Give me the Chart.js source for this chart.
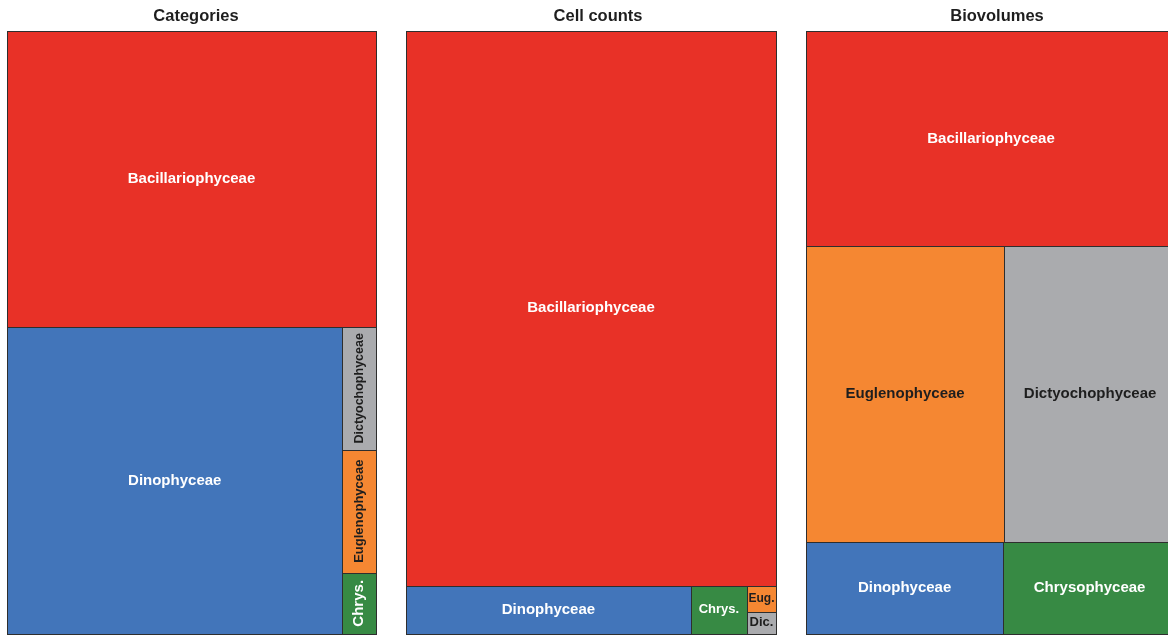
<!DOCTYPE html>
<html>
<head>
<meta charset="utf-8">
<title>Phytoplankton composition</title>
<script src="https://cdn.jsdelivr.net/npm/chart.js"></script>
<style>
  html, body { margin: 0; padding: 0; background: #ffffff; overflow: hidden; }
  body { position: relative; width: 1168px; height: 635px; }
  canvas { position: absolute; top: 0; }
</style>
</head>
<body>
<canvas id="panelCategories" width="378" height="635" style="left:7px"></canvas>
<canvas id="panelCells" width="384" height="635" style="left:406px"></canvas>
<canvas id="panelBiovolumes" width="382" height="635" style="left:806px"></canvas>
<script>
// Phytoplankton classes, ties broken alphabetically
const taxa = ['Bacillariophyceae', 'Dinophyceae', 'Dictyochophyceae', 'Euglenophyceae', 'Chrysophyceae'];
const shortNames = ['Bac.', 'Dino.', 'Dic.', 'Eug.', 'Chrys.'];
const taxaColours = ['#E83127', '#4275BA', '#AAABAE', '#F58732', '#378A44'];
const labelColours = ['#ffffff', '#ffffff', '#1e1e1e', '#1e1e1e', '#ffffff'];

// number of taxa per class
const categoryCounts = [53, 50, 2, 2, 1];
// share of total cell counts (%)
const cellCountShares = [91.96, 6.19, 0.29, 0.34, 1.22];
// share of total biovolume (%)
const biovolumeShares = [35.7, 8.1, 22.8, 26.3, 7.1];

const panelTitles = ['Categories', 'Cell counts', 'Biovolumes'];

const FONT = '"Liberation Sans", Arial, Helvetica, sans-serif';
Chart.defaults.font.family = FONT;

// Squarified treemap layout inside a W x H box; returns rectangles per input index
function squarify(values, W, H) {
  const total = values.reduce((s, v) => s + v, 0);
  const order = values.map((v, i) => i).sort((a, b) => values[b] - values[a]);
  const items = order.map(i => ({ i, a: values[i] * W * H / total }));
  const out = new Array(values.length);
  let x = 0, y = 0, w = W, h = H;
  let row = [];
  const worst = (r, side) => {
    const s = r.reduce((acc, it) => acc + it.a, 0);
    const len = s / side;
    let m = 0;
    for (const it of r) {
      const other = it.a / len;
      m = Math.max(m, len / other, other / len);
    }
    return m;
  };
  const layoutRow = () => {
    const s = row.reduce((acc, it) => acc + it.a, 0);
    if (w <= h) {
      const rh = s / w;
      let cx = x;
      for (const it of row) {
        const iw = it.a / rh;
        out[it.i] = { x0: cx, x1: cx + iw, y0: y, y1: y + rh };
        cx += iw;
      }
      y += rh; h -= rh;
    } else {
      const cw = s / h;
      let cy = y;
      for (const it of row) {
        const ih = it.a / cw;
        out[it.i] = { x0: x, x1: x + cw, y0: cy, y1: cy + ih };
        cy += ih;
      }
      x += cw; w -= cw;
    }
    row = [];
  };
  let k = 0;
  while (k < items.length) {
    const side = Math.min(w, h);
    const cand = items[k];
    if (row.length === 0 || worst(row.concat([cand]), side) <= worst(row, side)) {
      row.push(cand);
      k++;
    } else {
      layoutRow();
    }
  }
  if (row.length) layoutRow();
  return out;
}

// Rectangle element for one treemap cell
class TileElement extends Chart.Element {
  static id = 'tile';
  static defaults = { backgroundColor: '#cccccc', borderColor: '#2e2e2e', borderWidth: 1 };

  draw(ctx) {
    const o = this.options;
    const l = Math.round(this.left), t = Math.round(this.top);
    const r = Math.round(this.right), b = Math.round(this.bottom);
    ctx.save();
    ctx.fillStyle = o.backgroundColor;
    ctx.fillRect(l, t, r - l, b - t);
    ctx.lineWidth = o.borderWidth;
    ctx.strokeStyle = o.borderColor;
    ctx.strokeRect(l + 0.5, t + 0.5, r - l, b - t);
    ctx.restore();
  }
  inRange(mx, my) { return mx >= this.left && mx <= this.right && my >= this.top && my <= this.bottom; }
  inXRange(mx) { return mx >= this.left && mx <= this.right; }
  inYRange(my) { return my >= this.top && my <= this.bottom; }
  getCenterPoint() { return { x: (this.left + this.right) / 2, y: (this.top + this.bottom) / 2 }; }
  tooltipPosition() { return this.getCenterPoint(); }
}

// Dataset controller laying the values out as a squarified treemap on linear x/y scales
class TreemapController extends Chart.DatasetController {
  static id = 'treemap';
  static defaults = { datasetElementType: false, dataElementType: 'tile' };
  static overrides = {};

  update(mode) {
    const meta = this._cachedMeta;
    this.updateElements(meta.data, 0, meta.data.length, mode);
  }

  updateElements(tiles, start, count, mode) {
    const { xScale, yScale } = this._cachedMeta;
    const area = this.chart.chartArea;
    const W = area.right - area.left;
    const H = area.bottom - area.top;
    const rects = squarify(this.getDataset().data.map(Number), W, H);
    for (let i = start; i < start + count; i++) {
      const r = rects[i];
      const props = {
        left: xScale.getPixelForValue(r.x0 / W),
        right: xScale.getPixelForValue(r.x1 / W),
        top: yScale.getPixelForValue(r.y0 / H),
        bottom: yScale.getPixelForValue(r.y1 / H),
        options: this.resolveDataElementOptions(i, mode)
      };
      this.updateElement(tiles[i], i, props, mode);
    }
  }
}

Chart.register(TileElement, TreemapController);

// Pick text, size and orientation for a cell label
function chooseLabel(ctx, full, short, w, h) {
  const measure = (text, size) => {
    ctx.font = `bold ${size}px ${FONT}`;
    return ctx.measureText(text).width;
  };
  for (const text of [full, short]) {
    for (const size of [15, 13]) {
      const tw = measure(text, size);
      if (tw <= w - 10 && size <= h - 4) return { text, size, rot: false };
      if (tw <= h - 10 && size <= w - 4) return { text, size, rot: true };
    }
    const tw13 = measure(text, 13);
    const sH = Math.min(13, 13 * 0.9 * w / tw13, 0.8 * h);
    const sR = Math.min(13, 13 * 0.9 * h / tw13, 0.8 * w);
    const s = Math.max(sH, sR);
    if (s >= 9) return { text, size: s, rot: sR > sH };
  }
  return null;
}

const tileLabels = {
  id: 'tileLabels',
  afterDatasetsDraw(chart) {
    const ctx = chart.ctx;
    const meta = chart.getDatasetMeta(0);
    meta.data.forEach((tile, i) => {
      const w = tile.right - tile.left;
      const h = tile.bottom - tile.top;
      const pick = chooseLabel(ctx, taxa[i], shortNames[i], w, h);
      if (!pick) return;
      ctx.save();
      ctx.font = `bold ${pick.size}px ${FONT}`;
      ctx.fillStyle = labelColours[i];
      ctx.textAlign = 'center';
      ctx.textBaseline = 'middle';
      ctx.translate((tile.left + tile.right) / 2, (tile.top + tile.bottom) / 2);
      if (pick.rot) ctx.rotate(-Math.PI / 2);
      ctx.fillText(pick.text, 0, 0);
      ctx.restore();
    });
  }
};

function makePanel(canvasId, title, values, rightGap) {
  return new Chart(document.getElementById(canvasId), {
    type: 'treemap',
    data: {
      labels: taxa,
      datasets: [{
        label: title,
        data: values,
        backgroundColor: taxaColours,
        borderColor: '#2e2e2e',
        borderWidth: 1,
        clip: false,
        xAxisID: 'x',
        yAxisID: 'y'
      }]
    },
    options: {
      responsive: false,
      animation: false,
      events: [],
      layout: { padding: { bottom: 1 } },
      scales: {
        x: { type: 'linear', display: false, min: 0, max: 1 },
        y: { type: 'linear', display: false, min: 0, max: 1, reverse: true },
        gap: {
          type: 'linear', axis: 'y', position: 'right', display: true,
          grid: { display: false, drawTicks: false }, border: { display: false },
          ticks: { display: false },
          afterFit(scale) { scale.width = rightGap; }
        }
      },
      plugins: {
        legend: { display: false },
        tooltip: { enabled: false },
        title: {
          display: true,
          text: title,
          color: '#1e1e1e',
          font: { size: 16.5, weight: 'bold', lineHeight: 1.2 },
          padding: { top: 6.6, bottom: 4.6 }
        }
      }
    },
    plugins: [tileLabels]
  });
}

makePanel('panelCategories', panelTitles[0], categoryCounts, 9);
makePanel('panelCells', panelTitles[1], cellCountShares, 14);
makePanel('panelBiovolumes', panelTitles[2], biovolumeShares, 12);
</script>
</body>
</html>
